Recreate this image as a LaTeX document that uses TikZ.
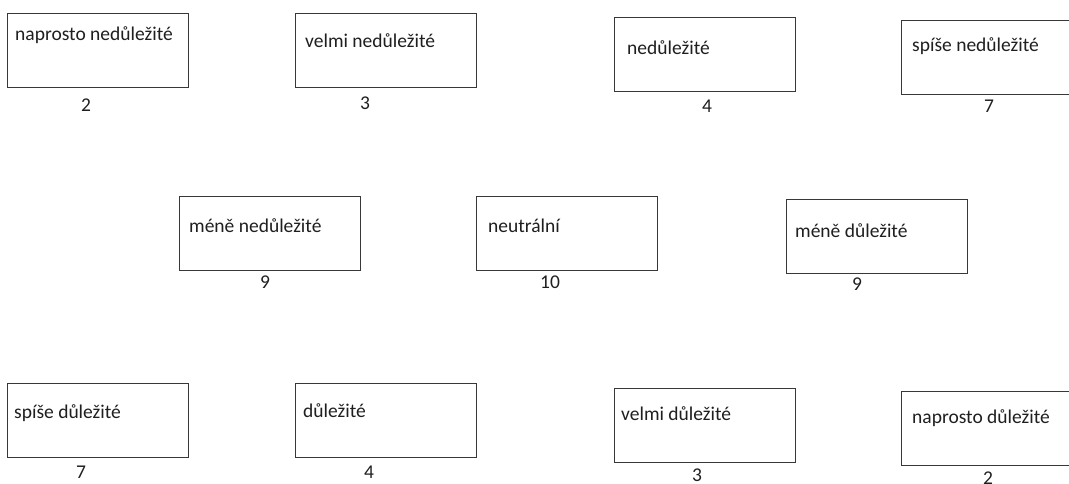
\documentclass[tikz,border=0pt]{standalone}
\usepackage{fontspec}
\setmainfont{Carlito}
\tikzset{
  box/.style={draw=black!78, line width=1.4pt, fill=white, inner sep=0pt,
              anchor=north west, minimum width=181pt, minimum height=74pt},
  lbl/.style={inner sep=0pt, anchor=base west, text=black!88,
              font=\fontsize{19.5}{21}\selectfont},
  num/.style={inner sep=0pt, anchor=base, text=black!88,
              font=\fontsize{19.5}{21}\selectfont}
}
\begin{document}
\begin{tikzpicture}[x=1pt, y=-1pt]
\clip (0,0) rectangle (1069,484);
\fill[white] (0,0) rectangle (1069,484);

% row 1
\node[box] (b1) at (7,13) {};
\node[lbl] (t1) at (15,41) {naprosto nedůležité};
\node[num] (n1) at (86,112) {2};

\node[box] (b2) at (295,13) {};
\node[lbl] (t2) at (305,48) {velmi nedůležité};
\node[num] (n2) at (365,110) {3};

\node[box] (b3) at (614,17) {};
\node[lbl] (t3) at (627,55) {nedůležité};
\node[num] (n3) at (707,113) {4};

\node[box] (b4) at (901,20) {};
\node[lbl] (t4) at (912,52) {spíše nedůležité};
\node[num] (n4) at (989,113) {7};

% row 2
\node[box] (b5) at (179,196) {};
\node[lbl] (t5) at (189,233) {méně nedůležité};
\node[num] (n5) at (265,288) {9};

\node[box] (b6) at (476,196) {};
\node[lbl] (t6) at (488,233) {neutrální};
\node[num] (n6) at (550,288) {10};

\node[box] (b7) at (786,199) {};
\node[lbl] (t7) at (795,237) {méně důležité};
\node[num] (n7) at (857,290) {9};

% row 3
\node[box] (b8) at (7,383) {};
\node[lbl] (t8) at (14,418) {spíše důležité};
\node[num] (n8) at (81,478) {7};

\node[box] (b9) at (295,383) {};
\node[lbl] (t9) at (303,417) {důležité};
\node[num] (n9) at (369,478) {4};

\node[box] (b10) at (614,388) {};
\node[lbl] (t10) at (621,420) {velmi důležité};
\node[num] (n10) at (697,481) {3};

\node[box] (b11) at (901,391) {};
\node[lbl] (t11) at (912,423) {naprosto důležité};
\node[num] (n11) at (988,484) {2};
\end{tikzpicture}
\end{document}
